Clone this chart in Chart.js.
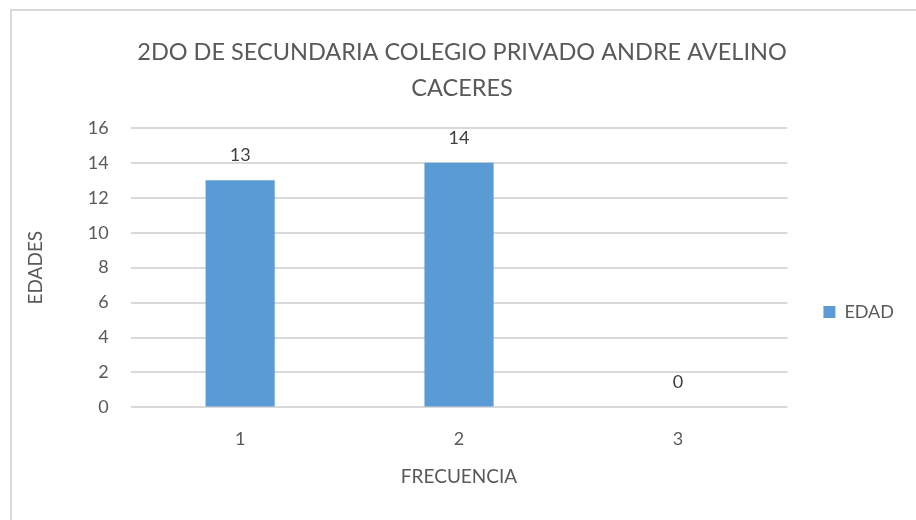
<!DOCTYPE html>
<html>
<head>
<meta charset="utf-8">
<script src="https://cdn.jsdelivr.net/npm/chart.js@4.4.1/dist/chart.umd.min.js"></script>
<style>
  html, body { margin: 0; padding: 0; background: #fff; }
  #marco {
    position: absolute; left: 10px; top: 9px; width: 1000px; height: 600px;
    border: 2px solid #d9d9d9; box-sizing: border-box;
  }
  #wrap { position: absolute; left: 0; top: 0; width: 916px; height: 520px; }
</style>
</head>
<body>
<div id="marco"></div>
<div id="wrap"><canvas id="grafico"></canvas></div>
<script>
const titulo = ["2DO DE SECUNDARIA COLEGIO PRIVADO ANDRE AVELINO", "CACERES"];
const categorias = ["1", "2", "3"];
const edades = [13, 14, 0];
const nombreSerie = "EDAD";
const ejeX = "FRECUENCIA";
const ejeY = "EDADES";

const gris = "#595959";
const fuente = "Lato, 'Open Sans', sans-serif";

// etiquetas de valor encima de cada barra
const etiquetasValor = {
    id: "etiquetasValor",
    afterDatasetsDraw(chart) {
        const ctx = chart.ctx;
        const meta = chart.getDatasetMeta(0);
        ctx.save();
        ctx.font = "18px " + fuente;
        ctx.fillStyle = "#404040";
        ctx.textAlign = "center";
        ctx.textBaseline = "middle";
        meta.data.forEach((bar, i) => {
            ctx.fillText(String(edades[i]), bar.x, bar.y - 25);
        });
        ctx.restore();
    }
};

new Chart(document.getElementById("grafico"), {
    type: "bar",
    data: {
        labels: categorias,
        datasets: [{
            label: nombreSerie,
            data: edades,
            backgroundColor: "#5b9bd5",
            borderWidth: 0,
            categoryPercentage: 1,
            barPercentage: 0.316
        }]
    },
    options: {
        responsive: true,
        maintainAspectRatio: false,
        animation: false,
        layout: { padding: { top: 10, left: 20, right: 12, bottom: 30 } },
        plugins: {
            title: {
                display: true,
                text: titulo,
                color: gris,
                font: { family: fuente, size: 23.5, weight: "normal", lineHeight: 1.53 },
                padding: { top: 24, bottom: 22 }
            },
            legend: {
                position: "right",
                // el titulo vacio baja la leyenda hasta su sitio
                title: { display: true, text: " ", font: { size: 10, lineHeight: 1.2 }, padding: { top: 56, bottom: 56 } },
                labels: {
                    color: gris,
                    font: { family: fuente, size: 18 },
                    boxWidth: 12,
                    boxHeight: 12,
                    padding: 36
                }
            },
            tooltip: { enabled: false }
        },
        scales: {
            x: {
                grid: { display: false },
                border: { display: false },
                ticks: { color: gris, font: { family: fuente, size: 18 }, padding: 13 },
                title: {
                    display: true, text: ejeX, color: gris,
                    font: { family: fuente, size: 19, lineHeight: 1.0 }, padding: { top: 4 }
                }
            },
            y: {
                min: 0,
                max: 16,
                ticks: { stepSize: 2, color: gris, font: { family: fuente, size: 18 }, padding: 22 },
                grid: { color: "#d9d9d9", lineWidth: 2, drawTicks: false },
                border: { display: false },
                title: {
                    display: true, text: ejeY, color: gris,
                    font: { family: fuente, size: 19 }, padding: { bottom: 19 }
                }
            }
        }
    },
    plugins: [etiquetasValor]
});
</script>
</body>
</html>
